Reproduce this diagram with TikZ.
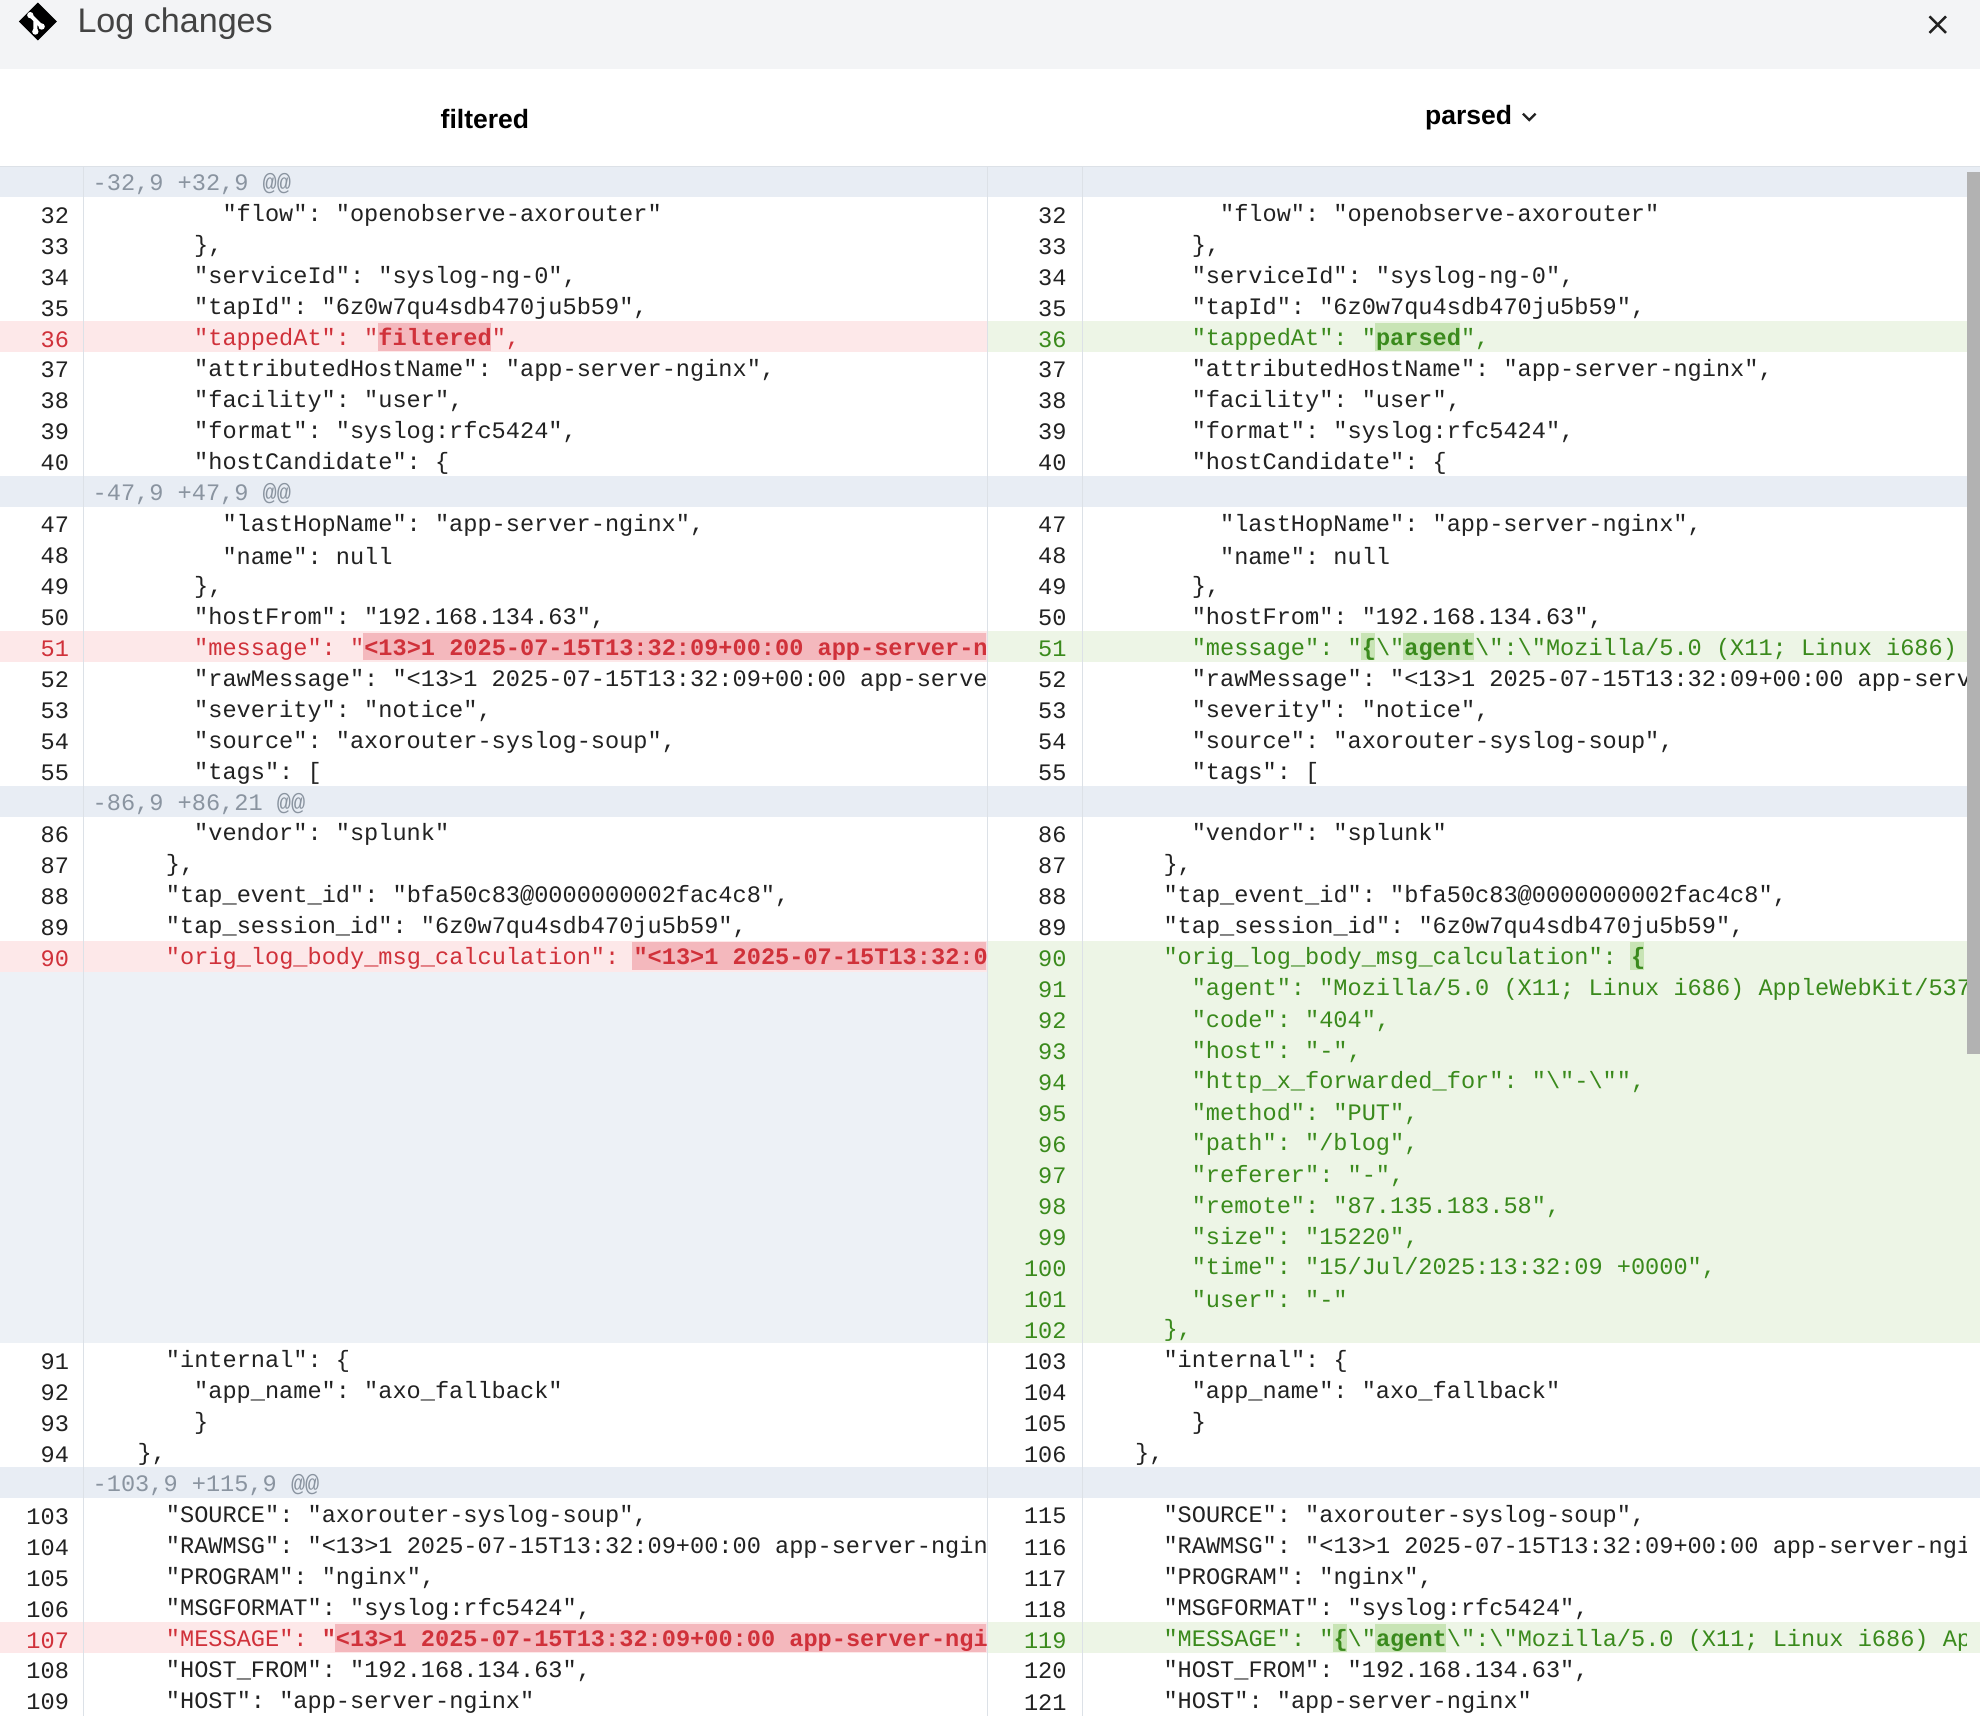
\documentclass[tikz,border=0pt]{standalone}
\usepackage{fontspec}
\setmainfont{Liberation Sans}
\setmonofont{Liberation Mono}
\definecolor{txt}{HTML}{222222}
\definecolor{red}{HTML}{D0313A}
\definecolor{grn}{HTML}{3A8A1C}
\definecolor{redbg}{HTML}{FDE8E9}
\definecolor{redhl}{HTML}{F4B8BD}
\definecolor{grnbg}{HTML}{EDF5E6}
\definecolor{grnhl}{HTML}{C8E4B5}
\definecolor{hunk}{HTML}{E8EDF4}
\definecolor{blank}{HTML}{EDF1F6}
\definecolor{hunktxt}{HTML}{8A94A0}
\definecolor{sep}{HTML}{DCE1E7}
\definecolor{topbar}{HTML}{F3F4F6}
\newcommand\cf{\fontsize{9.35}{11}\ttfamily}
\tikzset{code/.style={anchor=west,inner sep=0pt,font=\cf},
 num/.style={anchor=east,inner sep=0pt,font=\cf}}
\newcommand\RY[1]{144+24.53*#1}
\newcommand\Ln[5][txt]{\begin{scope}\clip (66,132) rectangle (781,1359);
 \node[code,text=#1] (l#2) at ({75+11.2*#4},{\RY{#2}+2}) {#5};\end{scope}
 \node[num,text=#1] (ln#2) at (55,{\RY{#2}+2}) {#3};}
\newcommand\Rn[5][txt]{\begin{scope}\clip (857,132) rectangle (1557,1359);
 \node[code,text=#1] (r#2) at ({865+11.2*#4},{\RY{#2}+2}) {#5};\end{scope}
 \node[num,text=#1] (rn#2) at (845,{\RY{#2}+2}) {#3};}
\newcommand\HL[5]{\fill[#5] ({#1+11.2*#3},{\RY{#2}-11}) rectangle ({#1+11.2*#4},{\RY{#2}+11});}
\newcommand\Band[4]{\fill[#4] (#1,{\RY{#3}-12.27}) rectangle (#2,{\RY{#3}+12.27});}
\newcommand\bs{\textbackslash}
\begin{document}
\begin{tikzpicture}[x=0.5pt,y=-0.5pt]
\useasboundingbox (0,0) rectangle (1568,1359);
\fill[white] (0,0) rectangle (1568,1359);
% top bar
\fill[topbar] (0,0) rectangle (1568,55);
\fill[black] (30,2) -- (45,17) -- (30,32) -- (15,17) -- cycle;
\draw[white,line width=1.5pt] (24,12) -- (33,21) (28,16) -- (28,24);
\fill[white] (24,12) circle (2.5) (33,21) circle (2.5) (28,25) circle (2.5);
\node[anchor=west,inner sep=0,font=\fontsize{13.5}{16}\selectfont,text=txt!85] (title) at (61,19) {Log changes};
\draw[txt,line width=1pt] (1528,13) -- (1541,26) (1541,13) -- (1528,26);
\node[font=\fontsize{10.5}{12}\bfseries,inner sep=0] (hl) at (384,94) {filtered};
\node[font=\fontsize{10.5}{12}\bfseries,inner sep=0] (hr) at (1163,93) {parsed};
\draw[txt,line width=0.9pt] (1206,90) -- (1211,95) -- (1216,90);
% bands
\foreach \r in {0,10,20,42} {\Band{0}{1568}{\r}{hunk}}
\fill[blank] (0,{\RY{26}-12.27}) rectangle (782,{\RY{37}+12.27});
\foreach \r in {5,15,25,47} {\Band{0}{782}{\r}{redbg}}
\foreach \r in {5,15,25,26,27,28,29,30,31,32,33,34,35,36,37,47} {\Band{782}{1568}{\r}{grnbg}}
\draw[sep] (66,132) -- (66,1359) (782,132) -- (782,1359) (857,132) -- (857,1359);
\draw[sep] (0,132) -- (1568,132);
\fill[black!30] (1558,136) rectangle (1568,835);
% hunk headers
\foreach \r/\t in {0/{-32,9 +32,9 @@},10/{-47,9 +47,9 @@},20/{-86,9 +86,21 @@},42/{-103,9 +115,9 @@}}
 \node[code,text=hunktxt] at (73,{\RY{\r}+2}) {\t};
% highlights
\begin{scope}
\clip (66,132) rectangle (781,1359);
\HL{75}{5}{20}{28}{redhl}
\HL{75}{15}{19}{70}{redhl}
\HL{75}{25}{38}{70}{redhl}
\HL{75}{47}{17}{70}{redhl}
\end{scope}
\HL{865}{5}{20}{26}{grnhl}
\HL{865}{15}{19}{20}{grnhl}
\HL{865}{15}{22}{27}{grnhl}
\HL{865}{25}{38}{39}{grnhl}
\HL{865}{47}{17}{18}{grnhl}
\HL{865}{47}{20}{25}{grnhl}
% left
\Ln{1}{32}{9}{"flow": "openobserve-axorouter"}
\Ln{2}{33}{7}{\},}
\Ln{3}{34}{7}{"serviceId": "syslog-ng-0",}
\Ln{4}{35}{7}{"tapId": "6z0w7qu4sdb470ju5b59",}
\Ln[red]{5}{36}{7}{"tappedAt": "\textbf{filtered}",}
\Ln{6}{37}{7}{"attributedHostName": "app-server-nginx",}
\Ln{7}{38}{7}{"facility": "user",}
\Ln{8}{39}{7}{"format": "syslog:rfc5424",}
\Ln{9}{40}{7}{"hostCandidate": \{}
\Ln{11}{47}{9}{"lastHopName": "app-server-nginx",}
\Ln{12}{48}{9}{"name": null}
\Ln{13}{49}{7}{\},}
\Ln{14}{50}{7}{"hostFrom": "192.168.134.63",}
\Ln[red]{15}{51}{7}{"message": "\textbf{<13>1 2025-07-15T13:32:09+00:00 app-server-nginx}"}
\Ln{16}{52}{7}{"rawMessage": "<13>1 2025-07-15T13:32:09+00:00 app-server-nginx"}
\Ln{17}{53}{7}{"severity": "notice",}
\Ln{18}{54}{7}{"source": "axorouter-syslog-soup",}
\Ln{19}{55}{7}{"tags": [}
\Ln{21}{86}{7}{"vendor": "splunk"}
\Ln{22}{87}{5}{\},}
\Ln{23}{88}{5}{"tap\_event\_id": "bfa50c83@0000000002fac4c8",}
\Ln{24}{89}{5}{"tap\_session\_id": "6z0w7qu4sdb470ju5b59",}
\Ln[red]{25}{90}{5}{"orig\_log\_body\_msg\_calculation": \textbf{"<13>1 2025-07-15T13:32:09}"}
\Ln{38}{91}{5}{"internal": \{}
\Ln{39}{92}{7}{"app\_name": "axo\_fallback"}
\Ln{40}{93}{7}{\}}
\Ln{41}{94}{3}{\},}
\Ln{43}{103}{5}{"SOURCE": "axorouter-syslog-soup",}
\Ln{44}{104}{5}{"RAWMSG": "<13>1 2025-07-15T13:32:09+00:00 app-server-nginx"}
\Ln{45}{105}{5}{"PROGRAM": "nginx",}
\Ln{46}{106}{5}{"MSGFORMAT": "syslog:rfc5424",}
\Ln[red]{47}{107}{5}{"MESSAGE": \textbf{"<13>1 2025-07-15T13:32:09+00:00 app-server-nginx}"}
\Ln{48}{108}{5}{"HOST\_FROM": "192.168.134.63",}
\Ln{49}{109}{5}{"HOST": "app-server-nginx"}
% right
\Rn{1}{32}{9}{"flow": "openobserve-axorouter"}
\Rn{2}{33}{7}{\},}
\Rn{3}{34}{7}{"serviceId": "syslog-ng-0",}
\Rn{4}{35}{7}{"tapId": "6z0w7qu4sdb470ju5b59",}
\Rn[grn]{5}{36}{7}{"tappedAt": "\textbf{parsed}",}
\Rn{6}{37}{7}{"attributedHostName": "app-server-nginx",}
\Rn{7}{38}{7}{"facility": "user",}
\Rn{8}{39}{7}{"format": "syslog:rfc5424",}
\Rn{9}{40}{7}{"hostCandidate": \{}
\Rn{11}{47}{9}{"lastHopName": "app-server-nginx",}
\Rn{12}{48}{9}{"name": null}
\Rn{13}{49}{7}{\},}
\Rn{14}{50}{7}{"hostFrom": "192.168.134.63",}
\Rn[grn]{15}{51}{7}{"message": "\textbf{\{}\bs"\textbf{agent}\bs":\bs"Mozilla/5.0 (X11; Linux i686) AppleWebKit}
\Rn{16}{52}{7}{"rawMessage": "<13>1 2025-07-15T13:32:09+00:00 app-server-nginx"}
\Rn{17}{53}{7}{"severity": "notice",}
\Rn{18}{54}{7}{"source": "axorouter-syslog-soup",}
\Rn{19}{55}{7}{"tags": [}
\Rn{21}{86}{7}{"vendor": "splunk"}
\Rn{22}{87}{5}{\},}
\Rn{23}{88}{5}{"tap\_event\_id": "bfa50c83@0000000002fac4c8",}
\Rn{24}{89}{5}{"tap\_session\_id": "6z0w7qu4sdb470ju5b59",}
\Rn[grn]{25}{90}{5}{"orig\_log\_body\_msg\_calculation": \textbf{\{}}
\Rn[grn]{26}{91}{7}{"agent": "Mozilla/5.0 (X11; Linux i686) AppleWebKit/537.36",}
\Rn[grn]{27}{92}{7}{"code": "404",}
\Rn[grn]{28}{93}{7}{"host": "-",}
\Rn[grn]{29}{94}{7}{"http\_x\_forwarded\_for": "\bs"-\bs"",}
\Rn[grn]{30}{95}{7}{"method": "PUT",}
\Rn[grn]{31}{96}{7}{"path": "/blog",}
\Rn[grn]{32}{97}{7}{"referer": "-",}
\Rn[grn]{33}{98}{7}{"remote": "87.135.183.58",}
\Rn[grn]{34}{99}{7}{"size": "15220",}
\Rn[grn]{35}{100}{7}{"time": "15/Jul/2025:13:32:09 +0000",}
\Rn[grn]{36}{101}{7}{"user": "-"}
\Rn[grn]{37}{102}{5}{\},}
\Rn{38}{103}{5}{"internal": \{}
\Rn{39}{104}{7}{"app\_name": "axo\_fallback"}
\Rn{40}{105}{7}{\}}
\Rn{41}{106}{3}{\},}
\Rn{43}{115}{5}{"SOURCE": "axorouter-syslog-soup",}
\Rn{44}{116}{5}{"RAWMSG": "<13>1 2025-07-15T13:32:09+00:00 app-server-nginx"}
\Rn{45}{117}{5}{"PROGRAM": "nginx",}
\Rn{46}{118}{5}{"MSGFORMAT": "syslog:rfc5424",}
\Rn[grn]{47}{119}{5}{"MESSAGE": "\textbf{\{}\bs"\textbf{agent}\bs":\bs"Mozilla/5.0 (X11; Linux i686) AppleWebKit}
\Rn{48}{120}{5}{"HOST\_FROM": "192.168.134.63",}
\Rn{49}{121}{5}{"HOST": "app-server-nginx"}
\end{tikzpicture}
\end{document}
